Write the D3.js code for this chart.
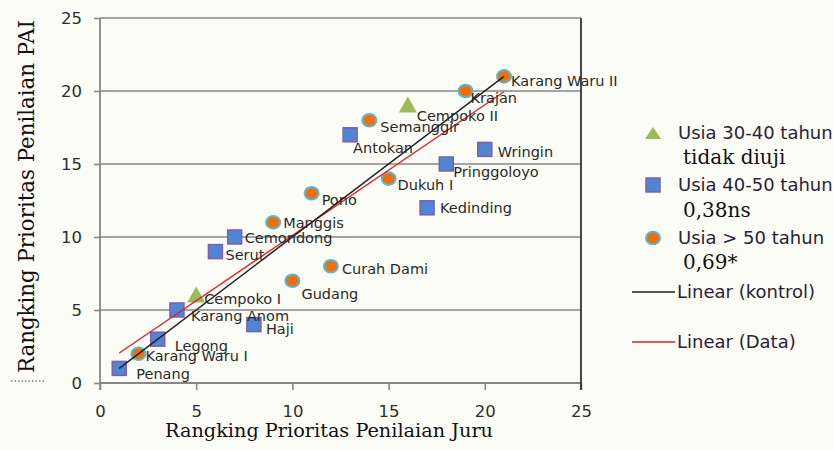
<!DOCTYPE html>
<html>
<head>
<meta charset="utf-8">
<script src="https://cdn.jsdelivr.net/npm/d3@7"></script>
<style>
  body { margin: 0; background: #fcfcf7; }
  svg { display: block; }
  .tick text { font-family: "DejaVu Sans", sans-serif; font-size: 16.5px; fill: #2e2e2e; }
  .lbl { font-family: "DejaVu Sans", sans-serif; font-size: 14.5px; fill: #2a2a2a; }
  .title { font-family: "DejaVu Serif", serif; fill: #111; }
  .leg { font-family: "DejaVu Sans", sans-serif; font-size: 18px; fill: #2a2238; }
  .legs { font-family: "DejaVu Serif", serif; font-size: 20px; fill: #111; }
</style>
</head>
<body>
<svg id="chart" width="834" height="450"></svg>
<script>
// data: rangking juru (x) vs rangking PAI (y)
var usia3040 = [
  { name: 'Cempoko II', x: 16, y: 19 },
  { name: 'Cempoko I', x: 5, y: 6 }
];
var usia4050 = [
  { name: 'Antokan', x: 13, y: 17 },
  { name: 'Wringin', x: 20, y: 16 },
  { name: 'Pringgoloyo', x: 18, y: 15 },
  { name: 'Kedinding', x: 17, y: 12 },
  { name: 'Cemondong', x: 7, y: 10 },
  { name: 'Serut', x: 6, y: 9 },
  { name: 'Karang Anom', x: 4, y: 5 },
  { name: 'Haji', x: 8, y: 4 },
  { name: 'Legong', x: 3, y: 3 },
  { name: 'Penang', x: 1, y: 1 }
];
var usia50 = [
  { name: 'Karang Waru II', x: 21, y: 21 },
  { name: 'Krajan', x: 19, y: 20 },
  { name: 'Semanggir', x: 14, y: 18 },
  { name: 'Dukuh I', x: 15, y: 14 },
  { name: 'Pono', x: 11, y: 13 },
  { name: 'Manggis', x: 9, y: 11 },
  { name: 'Gudang', x: 10, y: 7 },
  { name: 'Curah Dami', x: 12, y: 8 },
  { name: 'Karang Waru I', x: 2, y: 2 }
];
var xTicks = [0, 5, 10, 15, 20, 25];
var yTicks = [0, 5, 10, 15, 20, 25];
var legendItems = [
  { label: 'Usia 30-40 tahun', note: 'tidak diuji', shape: 'tri' },
  { label: 'Usia 40-50 tahun', note: '0,38ns', shape: 'sq' },
  { label: 'Usia > 50 tahun', note: '0,69*', shape: 'circ' },
  { label: 'Linear (kontrol)', shape: 'kontrol' },
  { label: 'Linear (Data)', shape: 'data' }
];

// label placement relative to marker (layout only)
var labelOffset = {
  'Karang Waru II': [7, 4], 'Krajan': [5, 7], 'Cempoko II': [9, 10], 'Semanggir': [11, 7],
  'Antokan': [3, 13], 'Wringin': [13, 2], 'Pringgoloyo': [7, 8], 'Dukuh I': [9, 6],
  'Pono': [10, 7], 'Kedinding': [13, 0], 'Curah Dami': [11, 3], 'Gudang': [9, 13],
  'Manggis': [10, 0], 'Cemondong': [10, 1], 'Serut': [10, 3], 'Cempoko I': [8, 3],
  'Karang Anom': [14, 6], 'Haji': [12, 4], 'Legong': [17, 7], 'Karang Waru I': [7, 2],
  'Penang': [17, 5]
};

var svg = d3.select('#chart');
var x = d3.scaleLinear().domain([0, 25]).range([100, 581]);
var y = d3.scaleLinear().domain([0, 25]).range([383, 18]);

var gridColor = '#878787';

// gridlines
svg.append('g').selectAll('line')
  .data(yTicks.filter(function (d) { return d > 0; }))
  .enter().append('line')
  .attr('x1', x(0)).attr('x2', x(25))
  .attr('y1', function (d) { return y(d); })
  .attr('y2', function (d) { return y(d); })
  .attr('stroke', gridColor).attr('stroke-width', 1.6);

// axes
var yAxis = d3.axisLeft(y).tickValues(yTicks).tickSize(6).tickPadding(12);
var xAxis = d3.axisBottom(x).tickValues(xTicks).tickSize(7).tickPadding(20);

var gy = svg.append('g').attr('transform', 'translate(' + x(0) + ',0)').call(yAxis);
var gx = svg.append('g').attr('transform', 'translate(0,' + y(0) + ')').call(xAxis);
[gx, gy].forEach(function (g) {
  g.select('.domain').remove();
  g.selectAll('.tick line').attr('stroke', gridColor).attr('stroke-width', 1.6);
});
gx.selectAll('.tick text').attr('dy', '0.45em');

svg.append('line')
  .attr('x1', x(0)).attr('x2', x(0)).attr('y1', y(25)).attr('y2', y(0) + 7)
  .attr('stroke', gridColor).attr('stroke-width', 1.8);
svg.append('line')
  .attr('x1', x(0)).attr('x2', x(25)).attr('y1', y(0)).attr('y2', y(0))
  .attr('stroke', gridColor).attr('stroke-width', 1.8);
svg.append('line')
  .attr('x1', x(25)).attr('x2', x(25)).attr('y1', y(25)).attr('y2', y(0) + 7)
  .attr('stroke', '#333').attr('stroke-width', 1.8);

// markers
function drawMarker(g, shape, small) {
  if (shape === 'tri') {
    g.append('path')
      .attr('d', small ? 'M0,-6L8,6L-8,6Z' : 'M0,-9L9,7L-9,7Z')
      .attr('fill', '#9bbb59');
  } else if (shape === 'sq') {
    g.append('rect').attr('x', -7).attr('y', -7).attr('width', 14).attr('height', 14)
      .attr('fill', '#4f85d2').attr('stroke', '#7f5fa8').attr('stroke-width', 1.5);
  } else {
    g.append('ellipse').attr('rx', 7).attr('ry', 6.3)
      .attr('fill', '#ec7012').attr('stroke', '#5ab8c8').attr('stroke-width', 2);
  }
}

var all = usia3040.concat(usia4050, usia50);

[[usia3040, 'tri'], [usia4050, 'sq'], [usia50, 'circ']].forEach(function (s) {
  var pts = svg.append('g').selectAll('g')
    .data(s[0]).enter().append('g')
    .attr('transform', function (d) { return 'translate(' + x(d.x) + ',' + y(d.y) + ')'; });
  pts.each(function () { drawMarker(d3.select(this), s[1], false); });
});

// trend lines (kontrol: y = x, data: least squares over all points)
var xr = d3.extent(all, function (d) { return d.x; });
var mx = d3.mean(all, function (d) { return d.x; });
var my = d3.mean(all, function (d) { return d.y; });
var slope = d3.sum(all, function (d) { return (d.x - mx) * (d.y - my); }) /
  d3.sum(all, function (d) { return (d.x - mx) * (d.x - mx); });
var icpt = my - slope * mx;

svg.append('line')
  .attr('x1', x(xr[0])).attr('y1', y(icpt + slope * xr[0]))
  .attr('x2', x(xr[1])).attr('y2', y(icpt + slope * xr[1]))
  .attr('stroke', '#d9262b').attr('stroke-width', 1.4);
svg.append('line')
  .attr('x1', x(xr[0])).attr('y1', y(xr[0]))
  .attr('x2', x(xr[1])).attr('y2', y(xr[1]))
  .attr('stroke', '#222').attr('stroke-width', 1.5);

// labels on top
svg.append('g').selectAll('text')
  .data(all).enter().append('text')
  .attr('class', 'lbl')
  .attr('x', function (d) { return x(d.x) + labelOffset[d.name][0]; })
  .attr('y', function (d) { return y(d.y) + labelOffset[d.name][1]; })
  .attr('dy', '0.36em')
  .text(function (d) { return d.name; });

// axis titles
svg.append('text').attr('class', 'title')
  .attr('x', 165).attr('y', 437)
  .attr('font-size', 19)
  .attr('textLength', 328).attr('lengthAdjust', 'spacingAndGlyphs')
  .text('Rangking Prioritas Penilaian Juru');
svg.append('text').attr('class', 'title')
  .attr('transform', 'translate(34,373) rotate(-90)')
  .attr('font-size', 22)
  .attr('textLength', 353).attr('lengthAdjust', 'spacingAndGlyphs')
  .text('Rangking Prioritas Penilaian PAI');
svg.append('line')
  .attr('x1', 11).attr('x2', 45).attr('y1', 381).attr('y2', 381)
  .attr('stroke', '#444').attr('stroke-width', 1.2).attr('stroke-dasharray', '1.5,2');

// legend
var legY = [133, 185, 238, 292, 342];
var noteDy = [24, 25, 24];
var legend = svg.append('g');
legendItems.forEach(function (d, i) {
  var g = legend.append('g').attr('transform', 'translate(0,' + legY[i] + ')');
  if (d.shape === 'kontrol' || d.shape === 'data') {
    g.append('line').attr('x1', 632).attr('x2', 675)
      .attr('stroke', d.shape === 'kontrol' ? '#222' : '#d9262b').attr('stroke-width', 1.5);
    g.append('text').attr('class', 'leg').attr('x', 677).attr('dy', '0.36em').text(d.label);
  } else {
    var m = g.append('g').attr('transform', 'translate(653,0)');
    drawMarker(m, d.shape, true);
    g.append('text').attr('class', 'leg').attr('x', 678).attr('dy', '0.36em').text(d.label);
    g.append('text').attr('class', 'legs').attr('x', 683).attr('y', noteDy[i])
      .attr('dy', '0.36em').text(d.note);
  }
});
</script>
</body>
</html>
